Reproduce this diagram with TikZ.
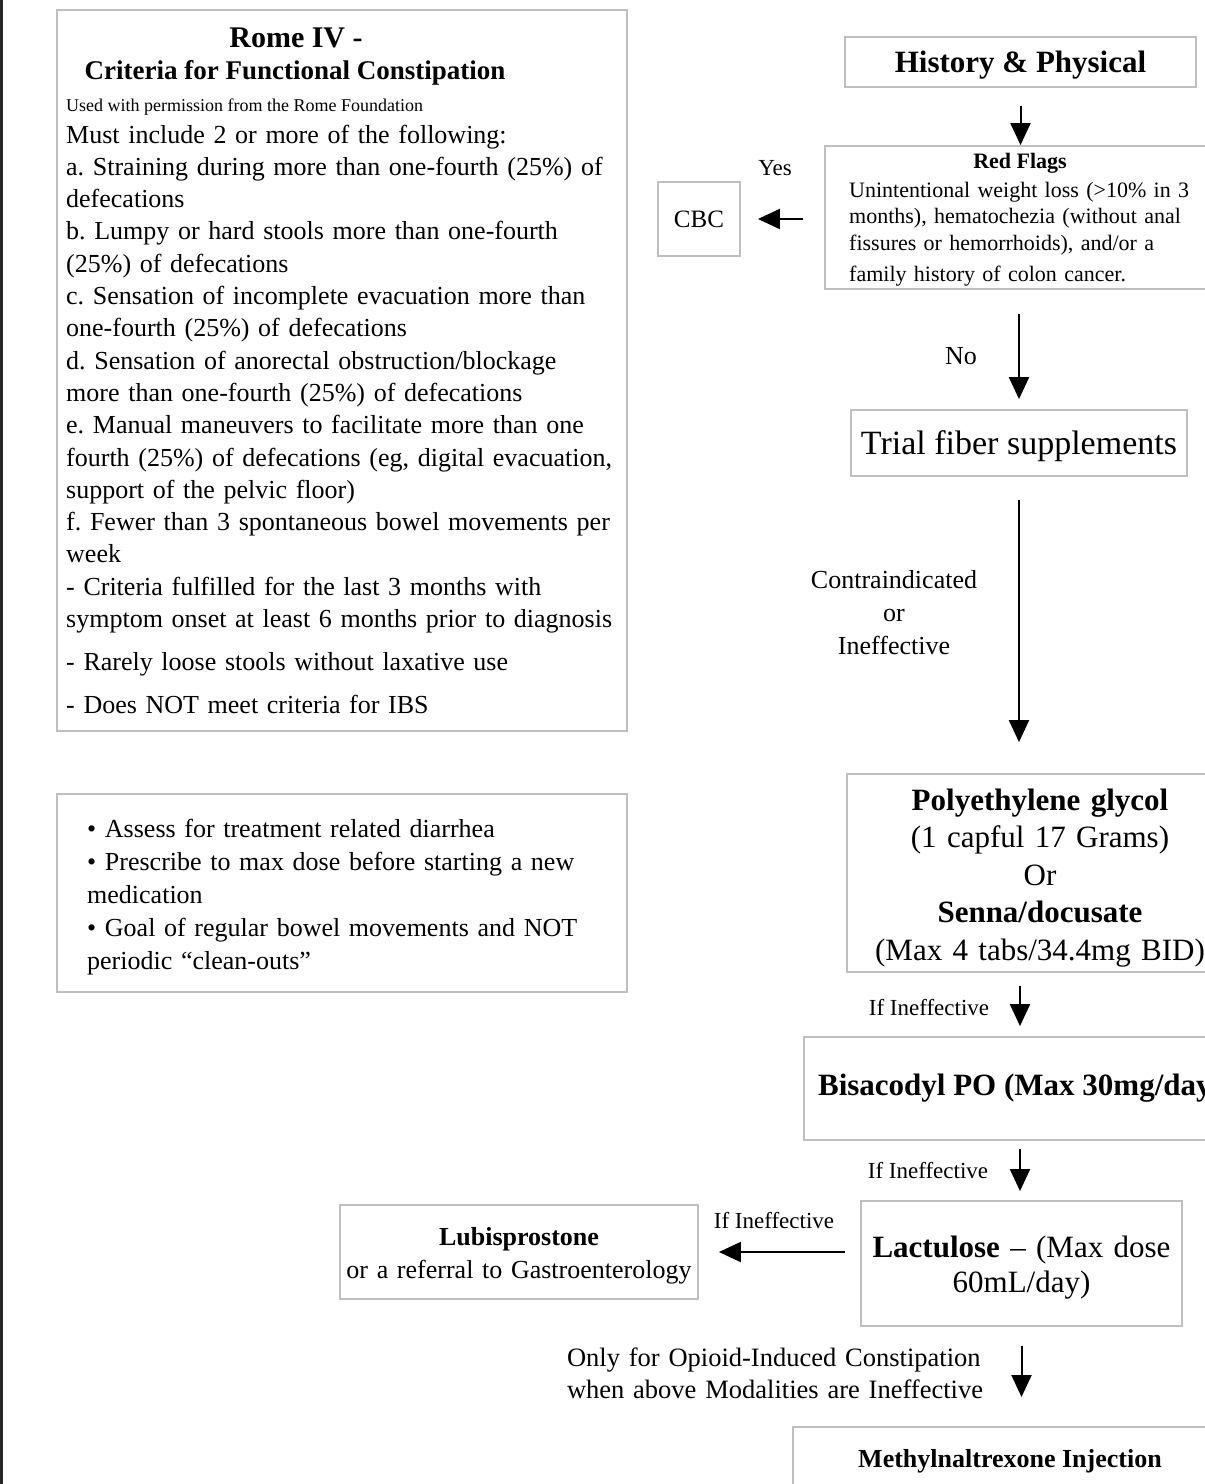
\documentclass[tikz,border=0pt]{standalone}
\usepackage{fontspec}
\setmainfont{Liberation Serif}
\usetikzlibrary{arrows.meta,positioning}

\newcommand{\fsz}[2]{\fontsize{#1}{#2}\selectfont}
\frenchspacing

\begin{document}
\begin{tikzpicture}[x=1pt, y=-1pt,
    box/.style={draw=black!25, line width=1.8pt, inner sep=0pt, align=center},
    oneline/.style={text depth=0pt},
    flow/.style={-{Triangle[width=20pt,length=22pt]}, line width=2pt},
    lbl/.style={inner sep=0pt, align=center}]
    \useasboundingbox (0,0) rectangle (1205,1484);
    \clip (0,0) rectangle (1205,1484);
    \fill[white] (0,0) rectangle (1205,1484);
    \fill[black!85] (0,0) rectangle (3,1484);

    % Rome IV criteria
    \node[box, minimum width=570, minimum height=721] (rome) at (342,370.5) {};
    \node[lbl, font=\bfseries\fsz{30}{36}] (romeTitle) at (296,38) {Rome IV -};
    \node[lbl, font=\bfseries\fsz{27}{30}] (romeSub) at (295,73) {Criteria for Functional Constipation};
    \node[lbl, font=\fsz{18}{20}, anchor=west] (romeNote) at (66,107) {Used with permission from the Rome Foundation};
    \node[lbl, font=\fsz{26}{32.3}, align=left, text width=640, anchor=base west] (romeList) at (66,143) {
      Must include 2 or more of the following:\\
      a. Straining during more than one-fourth (25\%) of\\
      defecations\\
      b. Lumpy or hard stools more than one-fourth\\
      (25\%) of defecations\\
      c. Sensation of incomplete evacuation more than\\
      one-fourth (25\%) of defecations\\
      d. Sensation of anorectal obstruction/blockage\\
      more than one-fourth (25\%) of defecations\\
      e. Manual maneuvers to facilitate more than one\\
      fourth (25\%) of defecations (eg, digital evacuation,\\
      support of the pelvic floor)\\
      f. Fewer than 3 spontaneous bowel movements per\\
      week\\
      - Criteria fulfilled for the last 3 months with\\
      symptom onset at least 6 months prior to diagnosis\\[10.7pt]
      - Rarely loose stools without laxative use\\[10.7pt]
      - Does NOT meet criteria for IBS};

    % Treatment notes
    \node[box, minimum width=570, minimum height=198] (notes) at (342,893) {};
    \node[lbl, font=\fsz{26}{33}, align=left, text width=600, anchor=base west] (notesText) at (87,837) {
      • Assess for treatment related diarrhea\\
      • Prescribe to max dose before starting a new\\
      medication\\
      • Goal of regular bowel movements and NOT\\
      periodic “clean-outs”};

    % Main flow
    \node[box, oneline, font=\bfseries\fsz{31}{36}, minimum width=351, minimum height=50] (hist) at (1020.5,62) {History \& Physical};
    \node[box, minimum width=390, minimum height=143] (flags) at (1020,217.5) {};
    \node[lbl, font=\bfseries\fsz{22}{26}] (flagsTitle) at (1020,163) {Red Flags};
    \node[lbl, font=\fsz{22}{26.5}, align=left, text width=400, anchor=base west] (flagsText) at (849,197) {
      Unintentional weight loss (>10\% in 3\\
      months), hematochezia (without anal\\
      fissures or hemorrhoids), and/or a\\[5pt]
      family history of colon cancer.};
    \node[box, font=\fsz{25}{30}, minimum width=82, minimum height=74] (cbc) at (699,219) {CBC};
    \node[box, oneline, font=\fsz{34}{40}, minimum width=336, minimum height=66] (trial) at (1019,443) {Trial fiber supplements};
    \node[box, font=\fsz{31}{37.5}, text width=386, text height=31.5, minimum height=198] (poly) at (1040,873) {
      \textbf{Polyethylene glycol}\\
      (1 capful 17 Grams)\\
      Or\\
      \textbf{Senna/docusate}\\
      (Max 4 tabs/34.4mg BID)};
    \node[box, font=\bfseries\fsz{31}{36}, minimum width=432, minimum height=103] (bisa) at (1020,1088.5) {Bisacodyl PO (Max 30mg/day)};
    \node[box, font=\fsz{31}{35}, text width=321, text height=30, minimum height=125] (lact) at (1021.5,1263.5) {
      \textbf{Lactulose} – (Max dose\\
      60mL/day)};
    \node[box, font=\fsz{26}{33}, text width=358, text height=26, minimum height=94] (lubi) at (519,1252) {
      \textbf{Lubisprostone}\\
      or a referral to Gastroenterology};
    \node[box, font=\bfseries\fsz{26}{30}, minimum width=434, minimum height=68, anchor=north] (methyl) at (1010,1426) {Methylnaltrexone Injection};

    % Labels
    \node[lbl, font=\fsz{23}{26}] (yesLbl) at (775,168) {Yes};
    \node[lbl, font=\fsz{26}{30}] (noLbl) at (961,356) {No};
    \node[lbl, font=\fsz{26}{33}, text width=200] (contraLbl) at (894,613) {Contraindicated\\or\\Ineffective};
    \node[lbl, font=\fsz{23}{26}] (ineffA) at (929,1008) {If Ineffective};
    \node[lbl, font=\fsz{23}{26}] (ineffB) at (928,1170) {If Ineffective};
    \node[lbl, font=\fsz{23}{26}] (ineffC) at (774,1220) {If Ineffective};
    \node[lbl, font=\fsz{26.5}{32}, align=left, text width=420] (opioidLbl) at (777,1373) {
      Only for Opioid-Induced Constipation\\
      when above Modalities are Ineffective};

    % Arrows
    \draw[flow, shorten <=18pt] (hist.south) -- (hist.south |- flags.north);
    \draw[flow, shorten <=21pt, shorten >=17pt] (flags.west |- cbc.east) -- (cbc.east);
    \draw[flow, shorten <=24pt, shorten >=10pt] (trial.north |- flags.south) -- (trial.north);
    \draw[flow, shorten <=23pt, shorten >=31pt] (trial.south) -- (trial.south |- poly.north);
    \draw[flow, shorten <=13pt, shorten >=10pt] (bisa.north |- poly.south) -- (bisa.north);
    \draw[flow, shorten <=8pt, shorten >=9pt] (bisa.south) -- (bisa.south |- lact.north);
    \draw[flow, shorten <=15pt, shorten >=20pt] (lact.west |- lubi.east) -- (lubi.east);
    \draw[flow, shorten <=19pt, shorten >=29pt] (lact.south) -- (lact.south |- methyl.north);
  \end{tikzpicture}
\end{document}
